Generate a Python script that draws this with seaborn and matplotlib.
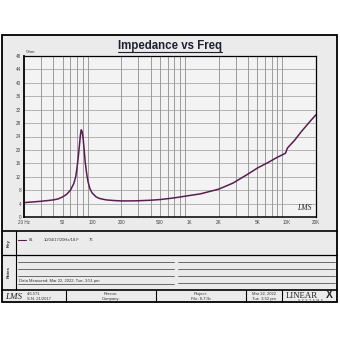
import matplotlib
matplotlib.use("Agg")
import matplotlib.pyplot as plt
import seaborn as sns
import pandas as pd
from matplotlib.lines import Line2D
from matplotlib.patches import Rectangle

# ---------------- data ----------------
freq_hz = [20, 25, 30, 35, 40, 45, 50, 55, 60, 65, 68, 70, 72, 74, 76, 77.5,
           79, 81, 83, 85, 88, 91, 95, 100, 110, 120, 140, 170, 200, 250, 300,
           400, 500, 700, 1000, 1300, 2000, 2800, 4000, 5000, 6300, 8000, 9700,
           10200, 10500, 12000, 14000, 17000, 20000]
impedance_ohm = [4.3, 4.5, 4.7, 4.9, 5.1, 5.4, 6.0, 6.8, 8.0, 10.0, 12.0, 14.5,
                 17.5, 21.0, 24.5, 26.0, 25.5, 23.5, 20.0, 16.5, 13.0, 10.5, 8.5,
                 7.2, 6.0, 5.5, 5.1, 4.9, 4.8, 4.8, 4.85, 5.0, 5.2, 5.7, 6.4, 6.9,
                 8.3, 10.1, 12.8, 14.6, 16.1, 17.8, 19.0, 20.6, 21.0, 22.8, 25.3,
                 28.2, 30.5]

x_ticks = [20, 50, 100, 200, 500, 1000, 2000, 5000, 10000, 20000]
x_tick_labels = ["20 Hz", "50", "100", "200", "500", "1K", "2K", "5K", "10K", "20K"]
y_ticks = [0, 4, 8, 12, 16, 20, 24, 28, 32, 36, 40, 44, 48]
y_tick_labels = [str(v) for v in y_ticks]

title_text = "Impedance vs Freq"
y_unit = "Ohm"
key_entries = ["81", "10/04/17/20Hz/18.F", "76"]
notes_text = "Data Measured: Mar 22, 2022, Tue, 3:51 pm"
footer_version = ["4.6.571", "S.N. 21/2017"]
footer_person = ["Person:", "Company:"]
footer_project = ["Project:", "File: 8-T.lib"]
footer_date = ["Mar 22, 2022", "Tue  3:52 pm"]

df = pd.DataFrame({"Frequency": freq_hz, "Impedance": impedance_ohm})

# ---------------- figure ----------------
sns.set_style("white")
plt.rcParams["font.family"] = ["Liberation Sans", "DejaVu Sans"]

W = H = 340
fig = plt.figure(figsize=(3.4, 3.4), dpi=100)
fig.patch.set_facecolor("white")


def fx(px):
    return px / W


def fy(py):
    return 1 - py / H


def hline(x0, x1, y, lw=0.8, color="black"):
    fig.add_artist(Line2D([fx(x0), fx(x1)], [fy(y), fy(y)], transform=fig.transFigure,
                          lw=lw, color=color))


def vline(x, y0, y1, lw=0.8, color="black"):
    fig.add_artist(Line2D([fx(x), fx(x)], [fy(y0), fy(y1)], transform=fig.transFigure,
                          lw=lw, color=color))


def text(x, y, s, **kw):
    fig.text(fx(x), fy(y), s, **kw)


# page panel
fig.add_artist(Rectangle((fx(2), fy(302)), fx(335), 267 / H, transform=fig.transFigure,
                         facecolor="#ebebeb", edgecolor="black", lw=1.3, zorder=0))

# separators
hline(2, 337, 231, lw=1.2)
hline(2, 337, 255, lw=0.9)
hline(2, 337, 290, lw=1.2)
vline(16, 231, 290, lw=0.8)
for xv in [66, 156, 246, 282]:
    vline(xv, 290, 302, lw=0.8)

# title
text(170, 49, title_text, ha="center", va="baseline", fontsize=8.3, fontweight="bold",
     color="#202030")
hline(118, 222, 51.5, lw=0.8, color="#202030")

# ---------------- main plot ----------------
ax = fig.add_axes([fx(24), fy(217), 292 / W, 161 / H])
ax.set_facecolor("#f3f3f3")
ax.set_xscale("log")
sns.lineplot(data=df, x="Frequency", y="Impedance", ax=ax, color="#5a1d52", lw=1.1,
             sort=False, estimator=None)
ax.set_xlim(20, 20000)
ax.set_ylim(0, 48)

# grid
grid_minor = []
for dec in [10, 100, 1000, 10000]:
    for k in range(2, 10):
        v = k * dec
        if 20 < v < 20000:
            grid_minor.append(v)
for v in grid_minor:
    ax.axvline(v, color="#7a7a7a", lw=0.5, zorder=0)
for v in y_ticks[1:-1]:
    ax.axhline(v, color="#9a9a9a", lw=0.5, zorder=0)

ax.set_xticks(x_ticks)
ax.set_xticklabels(x_tick_labels)
ax.set_xticks([], minor=True)
ax.set_yticks(y_ticks)
ax.set_yticklabels(y_tick_labels)
ax.tick_params(axis="both", which="both", length=0, labelsize=3.3, colors="#444444", pad=2)
ax.set_xlabel("")
ax.set_ylabel("")
for s in ax.spines.values():
    s.set_color("black")
    s.set_linewidth(0.9)
ax.spines["left"].set_linewidth(1.3)
ax.spines["bottom"].set_linewidth(1.1)

ax.text(0.005, 1.01, y_unit, transform=ax.transAxes, fontsize=3.2, color="#333333",
        ha="left", va="bottom")
ax.text(0.985, 0.03, "LMS", transform=ax.transAxes, fontsize=5.5, style="italic",
        family=["Liberation Serif", "DejaVu Serif"], color="#222222", ha="right",
        va="bottom")

# ---------------- key ----------------
text(9, 243, "Key", rotation=90, ha="center", va="center", fontsize=3.2, fontweight="bold",
     color="#333333")
hline(18, 26, 240, lw=0.8, color="#5a1d52")
text(29, 240, key_entries[0], fontsize=3.0, va="center", ha="left", color="#333333")
text(44, 240, key_entries[1], fontsize=3.0, va="center", ha="left", color="#333333")
text(89, 240, key_entries[2], fontsize=3.0, va="center", ha="left", color="#333333")

# ---------------- notes ----------------
text(9, 272, "Notes", rotation=90, ha="center", va="center", fontsize=3.2,
     fontweight="bold", color="#333333")
for yv in [262, 269, 276]:
    hline(18, 174, yv, lw=0.6, color="#555555")
    hline(178, 335, yv, lw=0.6, color="#555555")
hline(18, 174, 284, lw=0.6, color="#555555")
hline(178, 335, 283, lw=0.6, color="#555555")
text(19, 283, notes_text, fontsize=3.0, va="bottom", ha="left", color="#333333")

# ---------------- footer ----------------
text(5, 297, "LMS", fontsize=6.5, style="italic", family=["Liberation Serif", "DejaVu Serif"],
     va="center", ha="left", color="#222222")
text(27, 294, footer_version[0], fontsize=3.0, va="center", ha="left", color="#333333")
text(27, 299, footer_version[1], fontsize=3.0, va="center", ha="left", color="#333333")
for cx, lines in [(111, footer_person), (201, footer_project), (264, footer_date)]:
    text(cx, 294, lines[0], fontsize=3.0, va="center", ha="center", color="#333333")
    text(cx, 299, lines[1], fontsize=3.0, va="center", ha="center", color="#333333")
text(286, 295.5, "LINEAR", fontsize=6.3, family=["Liberation Serif", "DejaVu Serif"],
     va="center", ha="left", color="#222222")
text(326, 295.5, "X", fontsize=7.5, fontweight="bold", va="center", ha="left",
     color="#222222")
text(310, 300.5, "S  Y  S  T  E  M  S", fontsize=2.2, va="center", ha="center",
     color="#333333")

fig.savefig("out.png", dpi=100, facecolor="white")
